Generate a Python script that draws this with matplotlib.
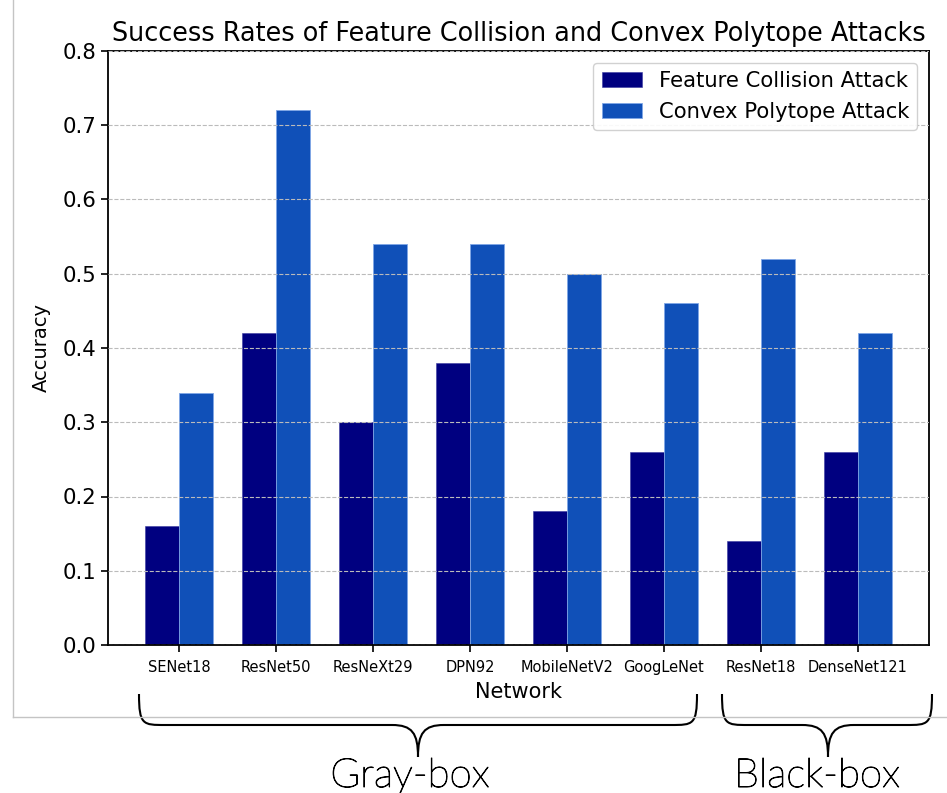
import matplotlib
matplotlib.use("Agg")
import matplotlib.pyplot as plt
import matplotlib.patheffects as pe
import numpy as np
from matplotlib.path import Path
from matplotlib.patches import PathPatch
from matplotlib.lines import Line2D

plt.rcParams["font.family"] = ["DejaVu Sans"]

networks = ["SENet18", "ResNet50", "ResNeXt29", "DPN92", "MobileNetV2",
            "GoogLeNet", "ResNet18", "DenseNet121"]
feature_collision = [0.16, 0.42, 0.30, 0.38, 0.18, 0.26, 0.14, 0.26]
convex_polytope = [0.34, 0.72, 0.54, 0.54, 0.50, 0.46, 0.52, 0.42]
y_ticks = [0.0, 0.1, 0.2, 0.3, 0.4, 0.5, 0.6, 0.7, 0.8]

W, H = 947, 793
fig = plt.figure(figsize=(W / 100, H / 100), dpi=100)
ax = fig.add_axes([108 / W, 1 - 645 / H, (929 - 108) / W, (645 - 51) / H])

x = np.arange(len(networks))
width = 0.35
ax.bar(x - width / 2, feature_collision, width, color="#000080",
       edgecolor="#3a3aa0", linewidth=0.4, label="Feature Collision Attack")
ax.bar(x + width / 2, convex_polytope, width, color="#1050b8",
       edgecolor="#7fa6e6", linewidth=0.6, label="Convex Polytope Attack")

ax.set_ylim(0, 0.8)
ax.set_yticks(y_ticks)
ax.set_yticklabels([f"{v:.1f}" for v in y_ticks], fontsize=15.3)
ax.set_xticks(x)
ax.set_xticklabels(networks, fontsize=10.5)
ax.tick_params(axis="both", length=5, width=1.2, color="black")
ax.tick_params(axis="x", pad=6)
ax.yaxis.grid(True, linestyle="--", color="#bbbbbb", linewidth=0.8)
ax.set_axisbelow(False)
for s in ax.spines.values():
    s.set_linewidth(1.3)

ax.set_title("Success Rates of Feature Collision and Convex Polytope Attacks",
             fontsize=18.4, pad=7)
ax.set_ylabel("Accuracy", fontsize=14, labelpad=8)
ax.set_xlabel("Network", fontsize=15, labelpad=5)
leg = ax.legend(loc="upper right", fontsize=15.2, fancybox=True,
                framealpha=0.9, edgecolor="#cccccc", borderaxespad=0.55,
                handlelength=1.9)

# light frame around the plot panel
def px(xp, yp):
    return xp / W, 1 - yp / H

frame_col = "#c4c4c4"
fig.add_artist(Line2D([13 / W, 13 / W], [1, 1 - 717 / H], color=frame_col,
                      linewidth=1.0, transform=fig.transFigure))
fig.add_artist(Line2D([13 / W, 1], [1 - 717 / H, 1 - 717 / H], color=frame_col,
                      linewidth=1.0, transform=fig.transFigure))

# curly braces grouping the networks
def brace(x0, x1, xc, ytop, ymid, ytip, r=26):
    verts = [
        (x0, ytop), (x0, ymid), (x0 + 4, ymid), (x0 + r, ymid),
        (xc - r, ymid),
        (xc - 6, ymid), (xc, ymid + 8), (xc, ytip),
        (xc, ymid + 8), (xc + 6, ymid), (xc + r, ymid),
        (x1 - r, ymid),
        (x1 - 4, ymid), (x1, ymid), (x1, ytop),
    ]
    codes = [Path.MOVETO, Path.CURVE4, Path.CURVE4, Path.CURVE4,
             Path.LINETO,
             Path.CURVE4, Path.CURVE4, Path.CURVE4,
             Path.CURVE4, Path.CURVE4, Path.CURVE4,
             Path.LINETO,
             Path.CURVE4, Path.CURVE4, Path.CURVE4]
    pts = [px(a, b) for a, b in verts]
    patch = PathPatch(Path(pts, codes), facecolor="none", edgecolor="black",
                      linewidth=1.5, transform=fig.transFigure)
    fig.add_artist(patch)

brace(139, 697, 418, 694, 725, 757)
brace(722, 932, 828, 694, 725, 757)

group_font = ["Lato", "DejaVu Sans"]
stroke = [pe.withStroke(linewidth=0.7, foreground="black")]
fig.text(410 / W, 1 - 787 / H, "Gray-box", fontsize=29, family=group_font,
         fontweight="light", ha="center", va="baseline", path_effects=stroke)
fig.text(817 / W, 1 - 787 / H, "Black-box", fontsize=29, family=group_font,
         fontweight="light", ha="center", va="baseline", path_effects=stroke)

fig.savefig("out.png", dpi=100)
